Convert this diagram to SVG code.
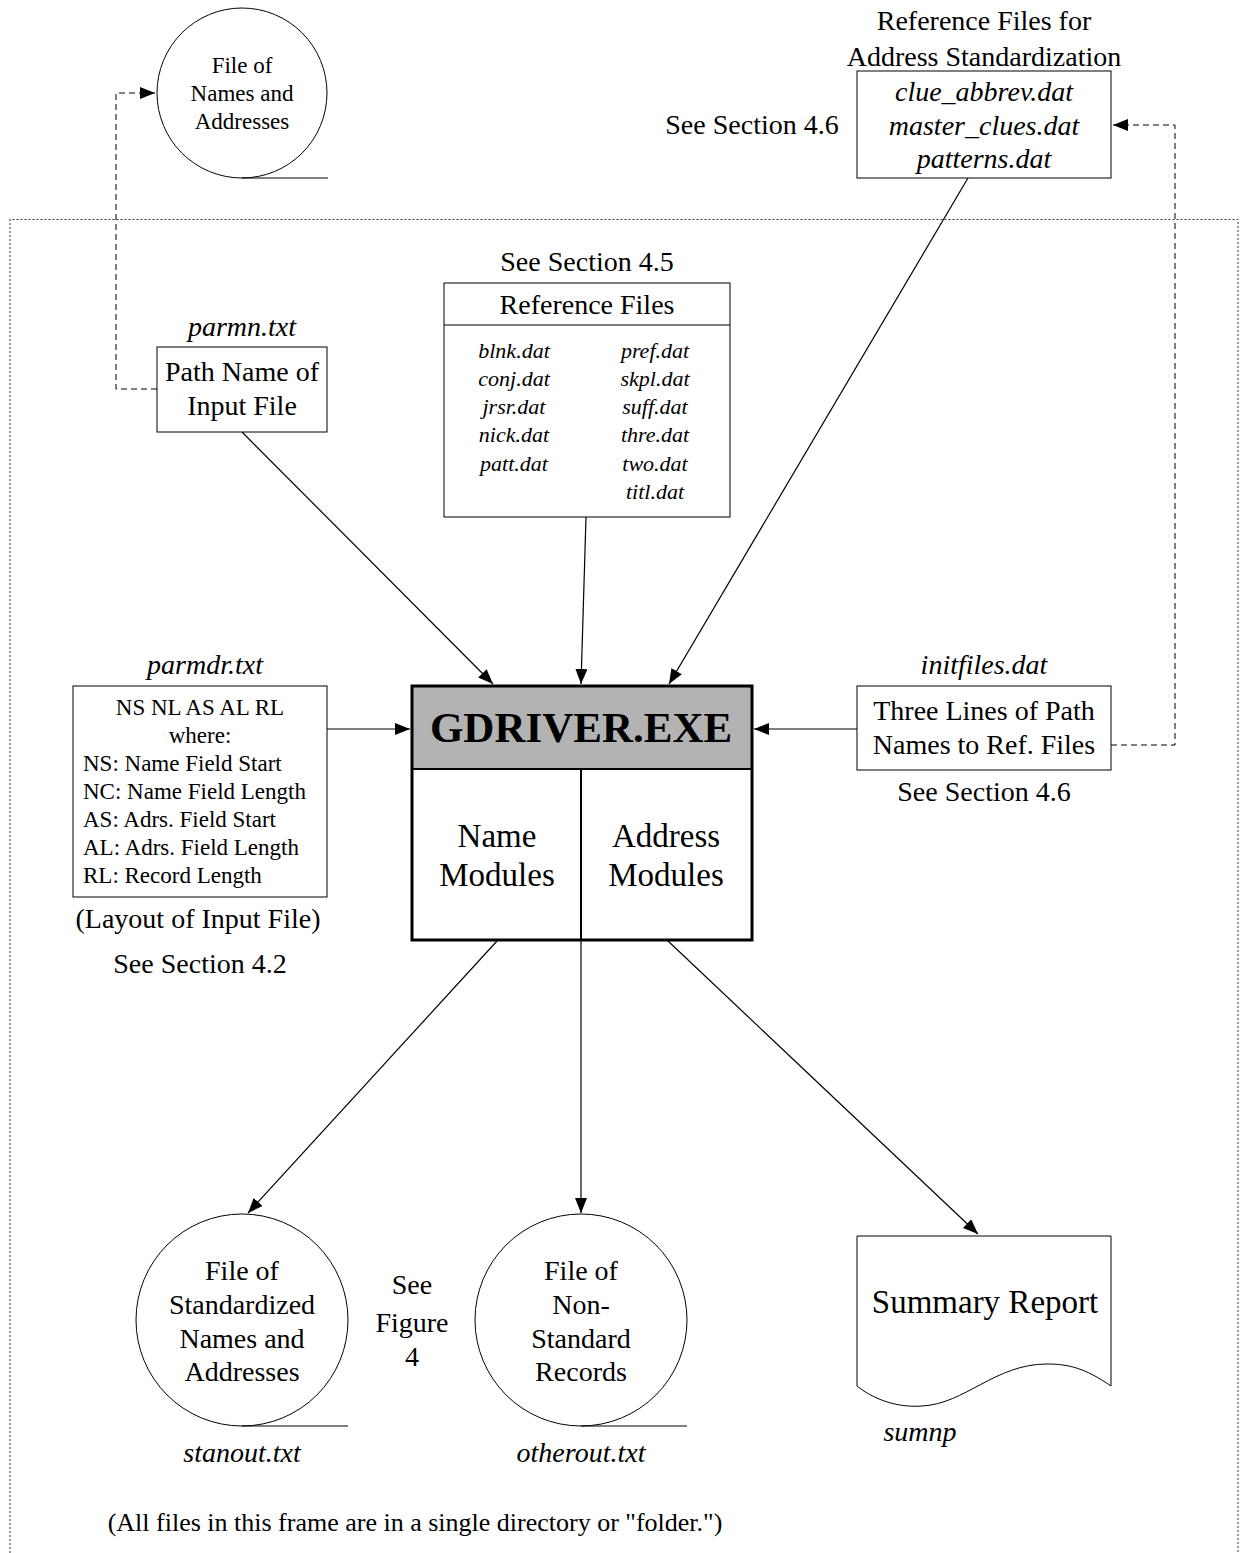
<svg xmlns="http://www.w3.org/2000/svg" width="1245" height="1553" viewBox="0 0 1245 1553">
  <style>
    text { font-family: "Liberation Serif", "Times New Roman", serif; fill: #000; text-anchor: middle; }
    text.l { text-anchor: start; }
    .it { font-style: italic; }
    .box { fill: #fff; stroke: #000; stroke-width: 1; }
    .ln { fill: none; stroke: #000; stroke-width: 1.2; }
    .dash { fill: none; stroke: #000; stroke-width: 1; stroke-dasharray: 6 4; }
    .frame { fill: none; stroke: #333; stroke-width: 1; stroke-dasharray: 2 2; }
    .f22 { font-size: 22px; }
    .f23 { font-size: 23px; }
    .f26 { font-size: 26px; }
    .f28 { font-size: 28px; }
    .f33 { font-size: 33px; }
  </style>
  <defs>
    <marker id="arr" markerUnits="userSpaceOnUse" markerWidth="16" markerHeight="12" refX="15" refY="6" orient="auto">
      <path d="M0,0 L15,6 L0,12 Z" fill="#000"/>
    </marker>
  </defs>

  <!-- dotted frame around the working directory -->
  <path class="frame" d="M10,1553 V219.5 H1238 V1553"/>

  <!-- connectors -->
  <g id="connectors">
    <path class="dash" d="M157,389 H116 V93 H155" marker-end="url(#arr)"/>
    <path class="dash" d="M1111,745 H1175 V125 H1113" marker-end="url(#arr)"/>
    <line class="ln" x1="242" y1="432" x2="493" y2="684" marker-end="url(#arr)"/>
    <line class="ln" x1="586" y1="517" x2="581" y2="684" marker-end="url(#arr)"/>
    <line class="ln" x1="968" y1="178" x2="669" y2="684" marker-end="url(#arr)"/>
    <line class="ln" x1="327" y1="729" x2="410" y2="729" marker-end="url(#arr)"/>
    <line class="ln" x1="857" y1="729" x2="754" y2="729" marker-end="url(#arr)"/>
    <line class="ln" x1="497" y1="941" x2="248" y2="1213" marker-end="url(#arr)"/>
    <line class="ln" x1="581" y1="941" x2="581" y2="1213" marker-end="url(#arr)"/>
    <line class="ln" x1="668" y1="941" x2="978" y2="1234" marker-end="url(#arr)"/>
  </g>

  <!-- input file of names and addresses -->
  <g id="input-file">
    <circle cx="242" cy="93" r="85" class="box"/>
    <line x1="242" y1="178" x2="328" y2="178" stroke="#000" stroke-width="1"/>
    <text class="f23" x="242" y="73">File of</text>
    <text class="f23" x="242" y="101">Names and</text>
    <text class="f23" x="242" y="129">Addresses</text>
  </g>

  <!-- address standardization reference files -->
  <g id="addr-ref-files">
    <text class="f28" x="984" y="30">Reference Files for</text>
    <text class="f28" x="984" y="66">Address Standardization</text>
    <rect class="box" x="857" y="71" width="254" height="107"/>
    <text class="f28 it" x="984" y="101">clue_abbrev.dat</text>
    <text class="f28 it" x="984" y="135">master_clues.dat</text>
    <text class="f28 it" x="984" y="168">patterns.dat</text>
    <text class="f28" x="752" y="134">See Section 4.6</text>
  </g>

  <!-- parmn.txt -->
  <g id="parmn">
    <text class="f28 it" x="242" y="336">parmn.txt</text>
    <rect class="box" x="157" y="347" width="170" height="85"/>
    <text class="f28" x="242" y="381">Path Name of</text>
    <text class="f28" x="242" y="415">Input File</text>
  </g>

  <!-- name reference files -->
  <g id="name-ref-files">
    <text class="f28" x="587" y="271">See Section 4.5</text>
    <rect class="box" x="444" y="283" width="286" height="234"/>
    <line x1="444" y1="325" x2="730" y2="325" stroke="#000" stroke-width="1"/>
    <text class="f28" x="587" y="314">Reference Files</text>
    <text class="f22 it" x="514" y="358">blnk.dat</text>
    <text class="f22 it" x="514" y="386">conj.dat</text>
    <text class="f22 it" x="514" y="414">jrsr.dat</text>
    <text class="f22 it" x="514" y="442">nick.dat</text>
    <text class="f22 it" x="514" y="471">patt.dat</text>
    <text class="f22 it" x="655" y="358">pref.dat</text>
    <text class="f22 it" x="655" y="386">skpl.dat</text>
    <text class="f22 it" x="655" y="414">suff.dat</text>
    <text class="f22 it" x="655" y="442">thre.dat</text>
    <text class="f22 it" x="655" y="471">two.dat</text>
    <text class="f22 it" x="655" y="499">titl.dat</text>
  </g>

  <!-- parmdr.txt layout of input -->
  <g id="parmdr">
    <text class="f28 it" x="205" y="674">parmdr.txt</text>
    <rect class="box" x="73" y="686" width="254" height="211"/>
    <text class="f23" x="200" y="715">NS NL AS AL RL</text>
    <text class="f23" x="200" y="743">where:</text>
    <text class="f23 l" x="83" y="771">NS: Name Field Start</text>
    <text class="f23 l" x="83" y="799">NC: Name Field Length</text>
    <text class="f23 l" x="83" y="827">AS: Adrs. Field Start</text>
    <text class="f23 l" x="83" y="855">AL: Adrs. Field Length</text>
    <text class="f23 l" x="83" y="883">RL: Record Length</text>
    <text class="f28" x="198" y="928">(Layout of Input File)</text>
    <text class="f28" x="200" y="973">See Section 4.2</text>
  </g>

  <!-- main program -->
  <g id="gdriver">
    <rect x="412" y="686" width="340" height="83" fill="#b3b3b3"/>
    <rect x="412" y="686" width="340" height="254" fill="none" stroke="#000" stroke-width="3"/>
    <line x1="412" y1="769" x2="752" y2="769" stroke="#000" stroke-width="2"/>
    <line x1="581" y1="769" x2="581" y2="940" stroke="#000" stroke-width="2"/>
    <text x="581" y="742" font-size="43" font-weight="bold">GDRIVER.EXE</text>
    <text class="f33" x="497" y="847">Name</text>
    <text class="f33" x="497" y="886">Modules</text>
    <text class="f33" x="666" y="847">Address</text>
    <text class="f33" x="666" y="886">Modules</text>
  </g>

  <!-- initfiles.dat -->
  <g id="initfiles">
    <text class="f28 it" x="984" y="674">initfiles.dat</text>
    <rect class="box" x="857" y="686" width="254" height="84"/>
    <text class="f28" x="984" y="720">Three Lines of Path</text>
    <text class="f28" x="984" y="754">Names to Ref. Files</text>
    <text class="f28" x="984" y="801">See Section 4.6</text>
  </g>

  <!-- standardized output -->
  <g id="stanout">
    <circle cx="242" cy="1320" r="106" class="box"/>
    <line x1="242" y1="1426" x2="348" y2="1426" stroke="#000" stroke-width="1"/>
    <text class="f28" x="242" y="1280">File of</text>
    <text class="f28" x="242" y="1314">Standardized</text>
    <text class="f28" x="242" y="1348">Names and</text>
    <text class="f28" x="242" y="1381">Addresses</text>
    <text class="f28 it" x="242" y="1462">stanout.txt</text>
  </g>

  <text class="f28" x="412" y="1294">See</text>
  <text class="f28" x="412" y="1332">Figure</text>
  <text class="f28" x="412" y="1366">4</text>

  <!-- non-standard output -->
  <g id="otherout">
    <circle cx="581" cy="1320" r="106" class="box"/>
    <line x1="581" y1="1426" x2="687" y2="1426" stroke="#000" stroke-width="1"/>
    <text class="f28" x="581" y="1280">File of</text>
    <text class="f28" x="581" y="1314">Non-</text>
    <text class="f28" x="581" y="1348">Standard</text>
    <text class="f28" x="581" y="1381">Records</text>
    <text class="f28 it" x="581" y="1462">otherout.txt</text>
  </g>

  <!-- summary report document -->
  <g id="summary">
    <path class="box" d="M857,1236 H1111 V1386 C1085,1368 1068,1364 1047,1364 C995,1364 965,1404 922,1406 C895,1408 872,1398 857,1386 Z"/>
    <text class="f33" x="985" y="1313">Summary Report</text>
    <text class="f28 it" x="920" y="1441">sumnp</text>
  </g>

  <text class="f26" x="415" y="1531">(All files in this frame are in a single directory or "folder.")</text>
</svg>
